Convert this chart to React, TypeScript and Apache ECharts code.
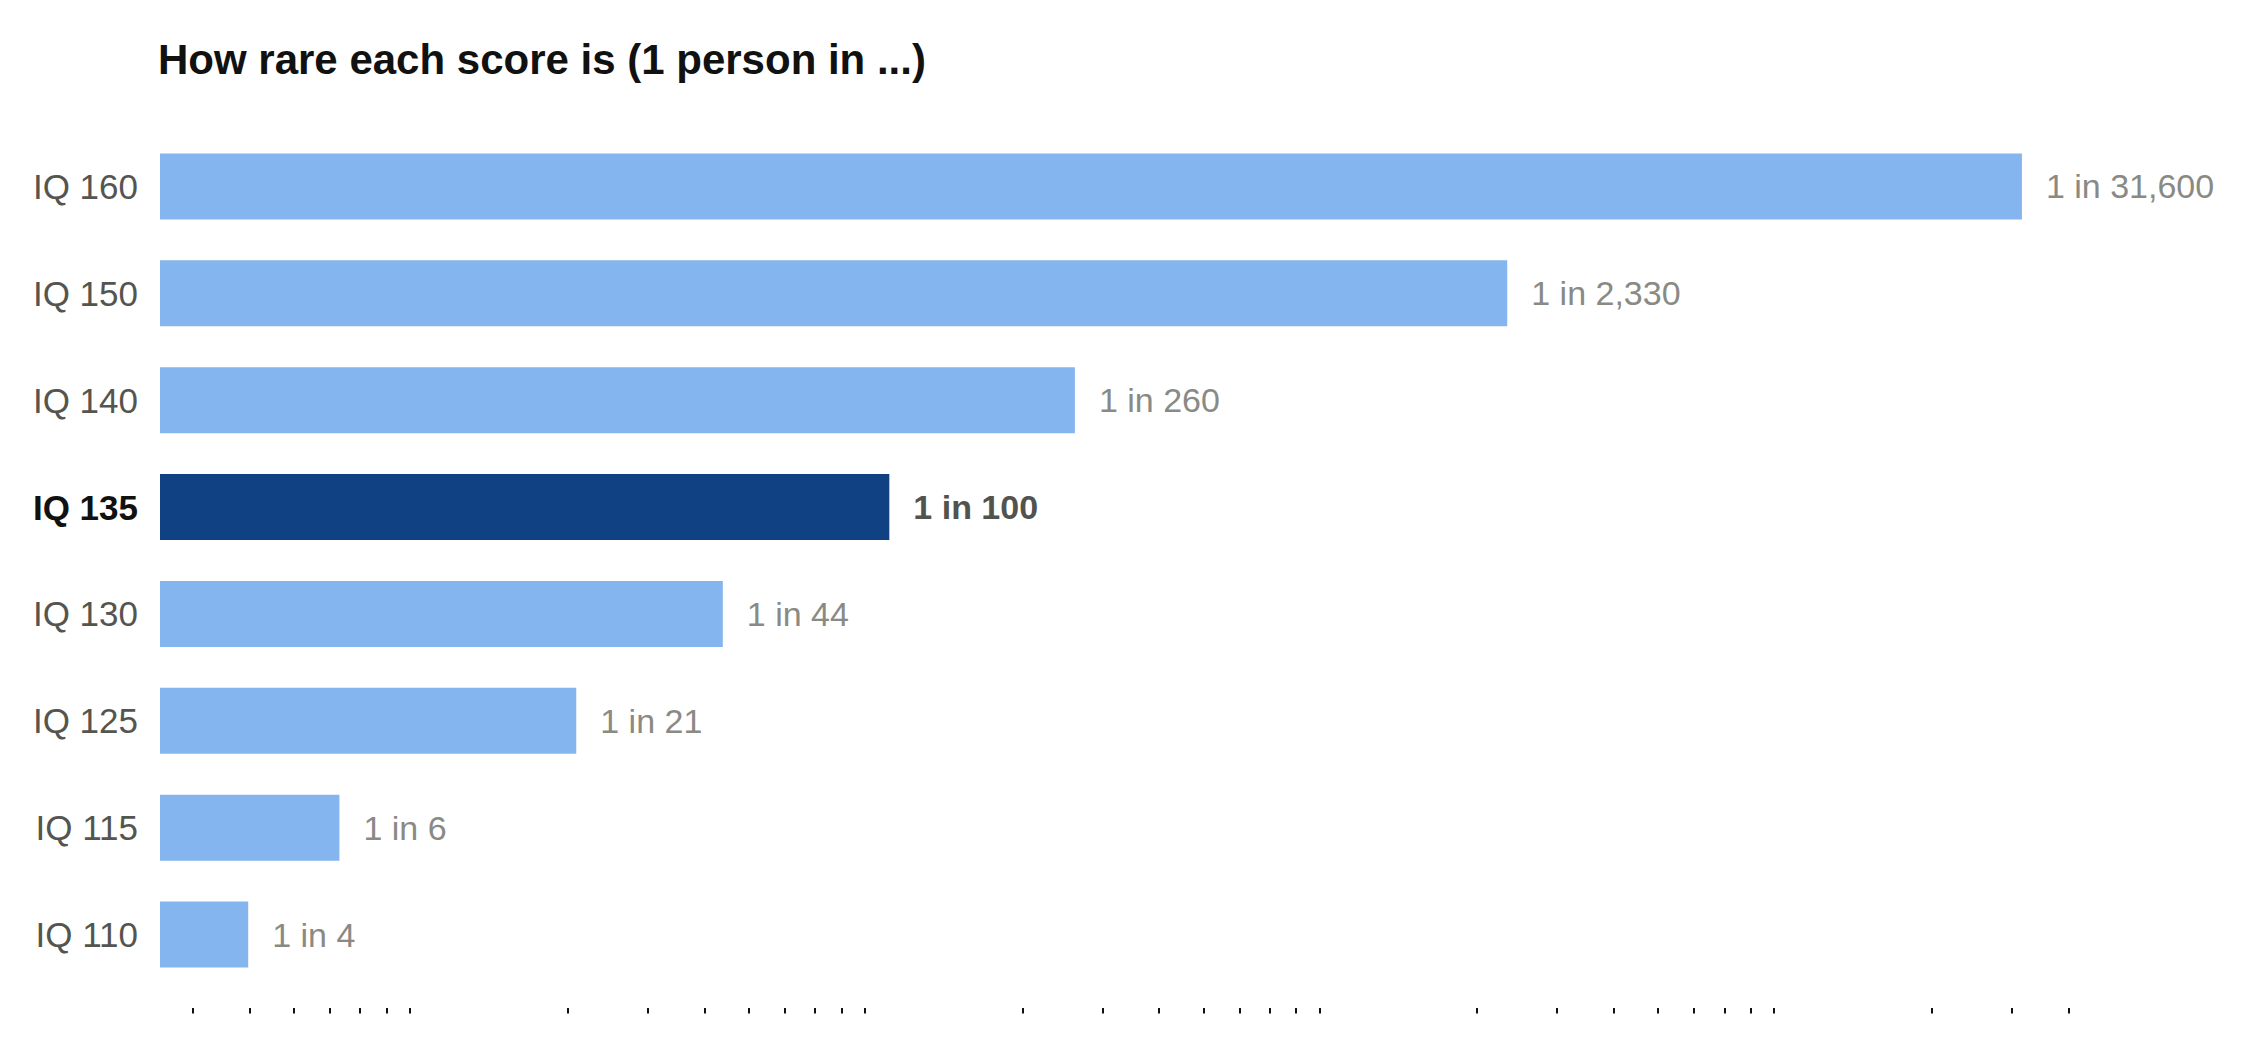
import React, { useEffect, useRef } from 'react';
import * as echarts from 'echarts';

// categories, top to bottom
const scores = ['IQ 160', 'IQ 150', 'IQ 140', 'IQ 135', 'IQ 130', 'IQ 125', 'IQ 115', 'IQ 110'];
// 1 person in ... (bar lengths)
const rarity = [31560, 2330, 261, 102, 43.9, 20.9, 6.3, 3.97];
// rounded figures printed next to the bars
const rarityLabels = ['31,600', '2,330', '260', '100', '44', '21', '6', '4'];
const highlighted = 'IQ 135';

// minor tick positions on the log axis (decade ticks are not drawn)
const tickValues = [
  3, 4, 5, 6, 7, 8, 9,
  20, 30, 40, 50, 60, 70, 80, 90,
  200, 300, 400, 500, 600, 700, 800, 900,
  2000, 3000, 4000, 5000, 6000, 7000, 8000, 9000,
  20000, 30000, 40000,
];

const FONT = '"Liberation Sans", Arial, Helvetica, sans-serif';
const LIGHT = '#85b5ee';
const DARK = '#104182';

export default function App() {
  const chartRef = useRef<HTMLDivElement>(null);

  useEffect(() => {
    document.body.style.margin = '0';
    if (!chartRef.current) return;
    const chart = echarts.init(chartRef.current, null, { renderer: 'svg' });

    const option = {
      animation: false,
      backgroundColor: '#fff',
      title: {
        text: 'How rare each score is (1 person in ...)',
        left: 158,
        top: 38,
        padding: 0,
        textStyle: {
          fontFamily: FONT,
          fontSize: 42,
          fontWeight: 'bold',
          color: '#111',
        },
      },
      grid: {
        left: 160,
        right: 164,
        top: 133,
        bottom: 52,
      },
      xAxis: {
        type: 'log',
        logBase: 10,
        min: 2.54,
        max: 45000,
        position: 'bottom',
        offset: 20,
        axisLine: { show: false },
        axisLabel: { show: false },
        splitLine: { show: false },
        minorTick: { show: false },
        axisTick: {
          show: true,
          customValues: tickValues,
          length: 5.5,
          lineStyle: { color: '#111', width: 2 },
        },
      },
      yAxis: {
        type: 'category',
        inverse: true,
        data: scores.map((s) =>
          s === highlighted
            ? { value: s, textStyle: { fontWeight: 'bold', color: '#111' } }
            : s
        ),
        axisLine: { show: false },
        axisTick: { show: false },
        axisLabel: {
          fontFamily: FONT,
          fontSize: 35,
          color: '#555550',
          margin: 22,
        },
      },
      series: [
        {
          type: 'bar',
          barWidth: 66,
          data: rarity.map((v, i) => {
            const hi = scores[i] === highlighted;
            return {
              value: v,
              itemStyle: { color: hi ? DARK : LIGHT },
              label: hi
                ? { fontWeight: 'bold', color: '#52524e' }
                : { fontWeight: 'normal', color: '#8a8a85' },
            };
          }),
          label: {
            show: true,
            position: 'right',
            distance: 24,
            fontFamily: FONT,
            fontSize: 34,
            formatter: (p: any) => `1 in ${rarityLabels[p.dataIndex]}`,
          },
        },
      ],
    };

    chart.setOption(option);

    const handleResize = () => chart.resize();
    window.addEventListener('resize', handleResize);

    return () => {
      window.removeEventListener('resize', handleResize);
      chart.dispose();
    };
  }, []);

  return <div ref={chartRef} style={{ width: 2256, height: 1040 }} />;
}
